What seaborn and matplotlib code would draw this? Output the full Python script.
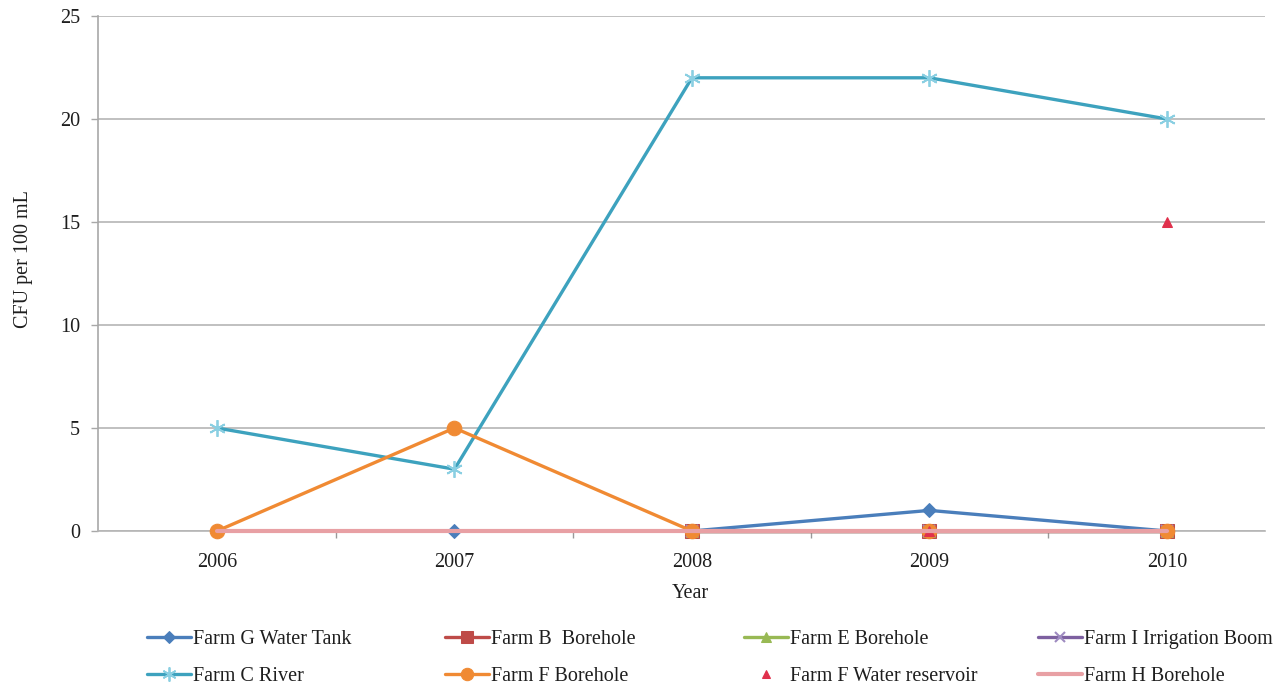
import numpy as np
import pandas as pd
import matplotlib
matplotlib.use("Agg")
import matplotlib.pyplot as plt
import seaborn as sns

years = ["2006", "2007", "2008", "2009", "2010"]

farm_g_water_tank = [0, 0, 0, 1, 0]
farm_b_borehole = [np.nan, np.nan, 0, 0, 0]
farm_e_borehole = [np.nan, np.nan, 0, 0, 0]
farm_i_irrigation_boom = [np.nan, np.nan, 0, 0, 0]
farm_c_river = [5, 3, 22, 22, 20]
farm_f_borehole = [0, 5, 0, 0, 0]
farm_f_water_reservoir = [np.nan, np.nan, np.nan, 0, 15]
farm_h_borehole = [0, 0, 0, 0, 0]

y_ticks = [0, 5, 10, 15, 20, 25]

sns.set_theme(style="white")
plt.rcParams["font.family"] = ["Liberation Serif", "DejaVu Serif"]

FS = 14.5
TXT = "#1E1E1E"

series = [
    ("Farm G Water Tank", farm_g_water_tank,
     dict(color="#4A7EBB", marker="D", markersize=7, linewidth=2.4, mec="#4A7EBB")),
    ("Farm B  Borehole", farm_b_borehole,
     dict(color="#BE4B48", marker="s", markersize=10, linewidth=2.4, mec="#BE4B48")),
    ("Farm E Borehole", farm_e_borehole,
     dict(color="#98B954", marker="^", markersize=9, linewidth=2.4, mec="#98B954")),
    ("Farm I Irrigation Boom", farm_i_irrigation_boom,
     dict(color="#7D60A0", marker="x", markersize=9, linewidth=2.4,
          mec="#9E8BC0", mew=1.5)),
    ("Farm C River", farm_c_river,
     dict(color="#3DA2BE", marker=(6, 2, 0), markersize=12, linewidth=2.4,
          mec="#8ACFE2", mew=1.3)),
    ("Farm F Borehole", farm_f_borehole,
     dict(color="#F08A33", marker="o", markersize=10.5, linewidth=2.4, mec="#F08A33")),
    ("Farm F Water reservoir", farm_f_water_reservoir,
     dict(color="#E0304C", marker="^", markersize=7, linewidth=0, linestyle="none",
          mec="#E0304C")),
    ("Farm H Borehole", farm_h_borehole,
     dict(color="#E8A0A4", marker=None, linewidth=3.0)),
]

fig = plt.figure(figsize=(12.75, 6.85), dpi=100)
ax = fig.add_axes([98 / 1275, 1 - 531 / 685, (1265 - 98) / 1275, (531 - 16) / 685])

handles = {}
for i, (name, vals, style) in enumerate(series):
    df = pd.DataFrame({"x": np.arange(len(years)), "y": vals}).dropna()
    sns.lineplot(data=df, x="x", y="y", ax=ax, label=name, zorder=3 + i,
                 clip_on=False, **style)
    handles[name] = ax.get_lines()[-1]

ax.get_legend().remove()

ax.set_xlim(-0.501, 4.413)
ax.set_ylim(0, 25)
ax.set_yticks(y_ticks)
ax.set_yticklabels([str(v) for v in y_ticks], fontsize=FS)
ax.set_xticks(np.arange(len(years)))
ax.set_xticklabels(years, fontsize=FS)
ax.set_xticks(np.arange(len(years) - 1) + 0.5, minor=True)
ax.tick_params(axis="x", which="major", length=0, pad=16, labelcolor=TXT)
ax.tick_params(axis="x", which="minor", length=5, width=1, color="#999999",
               direction="out", bottom=True)
ax.tick_params(axis="y", which="major", length=5, width=1, color="#A8A8A8",
               direction="out", left=True, pad=8, labelcolor=TXT)

ax.grid(axis="y", color="#B5B5B5", linewidth=1.2, zorder=0)
ax.grid(axis="x", visible=False)
for side in ["top", "right"]:
    ax.spines[side].set_visible(False)
ax.spines["left"].set_color("#A8A8A8")
ax.spines["left"].set_linewidth(1.2)
ax.spines["bottom"].set_color("#B5B5B5")
ax.spines["bottom"].set_linewidth(1.2)
ax.set_axisbelow(True)

ax.set_xlabel("Year", fontsize=FS, color=TXT)
ax.xaxis.set_label_coords((690 - 98) / 1167, -(593 - 531) / 515)
ax.xaxis.label.set_va("center")
ax.set_ylabel("CFU per 100 mL", fontsize=FS, color=TXT)
ax.yaxis.set_label_coords(-(98 - 24) / 1167, (531 - 259) / 515)
ax.yaxis.label.set_va("center")

# Legend laid out as four equal-width columns of two rows
columns = [
    ["Farm G Water Tank", "Farm C River"],
    ["Farm B  Borehole", "Farm F Borehole"],
    ["Farm E Borehole", "Farm F Water reservoir"],
    ["Farm I Irrigation Boom", "Farm H Borehole"],
]
col_x = [147, 445, 744, 1038]
for x0, names in zip(col_x, columns):
    fig.legend([handles[n] for n in names], names,
               loc="upper left", bbox_to_anchor=(x0 / 1275, 1 - 630 / 685),
               frameon=False, fontsize=FS, handlelength=2.2,
               handletextpad=0.1, labelspacing=0.9, borderpad=0,
               borderaxespad=0, markerscale=0.85, labelcolor=TXT)

fig.savefig("out.png", dpi=100)
